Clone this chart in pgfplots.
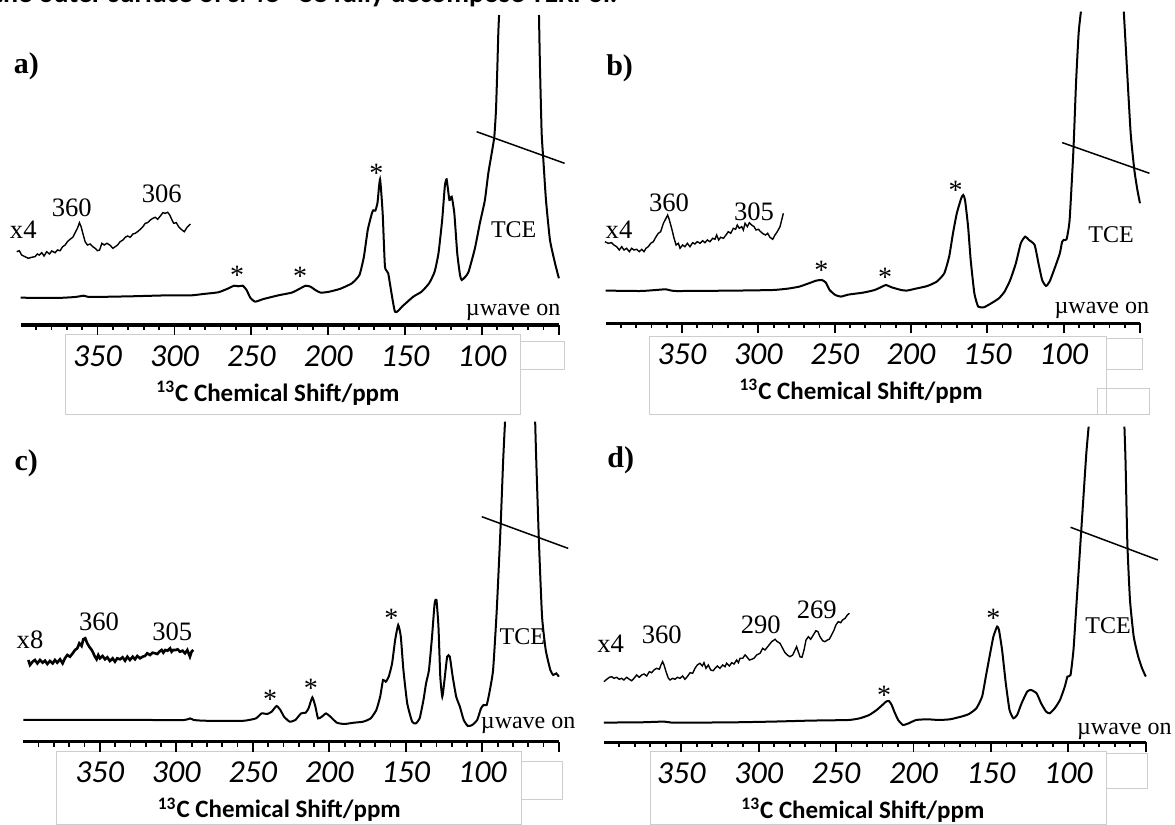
\documentclass[border=0pt]{standalone}
\usepackage{fontspec}
\setmainfont{Liberation Serif}
\newfontfamily\carlito{Carlito}
\usepackage{pgfplots}
\pgfplotsset{compat=1.18}
\definecolor{boxgray}{RGB}{205,205,205}

\pgfplotsset{
  nmr/.style={
    scale only axis, anchor=south west, clip=false,
    xmin=50, xmax=400, x dir=reverse, ymin=0,
    axis x line=bottom, axis y line=none,
    x axis line style={-, line width=1.6pt},
    xtick={50,100,...,350}, xticklabels={,100,150,200,250,300,350},
    minor xtick={60,70,...,390},
    xtick align=outside,
    major tick length=5pt, minor tick length=2.5pt,
    tick style={black, line width=0.9pt},
    xticklabel style={font=\carlito\itshape\fontsize{16}{16}\selectfont, anchor=center, yshift=-10.5pt},
    xlabel={\textsuperscript{13}C Chemical Shift/ppm},
    xlabel style={font=\carlito\bfseries\fontsize{12.5}{12.5}\selectfont,
      at={(axis description cs:0.478,0)}, anchor=center, yshift=-34pt},
  },
  spec/.style={black, line width=1pt, no markers, smooth, tension=0.3},
  ins/.style={black, line width=0.7pt, no markers},
}

\begin{document}
\begin{tikzpicture}
\path[use as bounding box] (0,0) rectangle (587.5pt,412.5pt);

% grey text-box outlines round the tick labels (image pixel coordinates)
\begin{scope}[yshift=412.5pt, x=0.5pt, y=-0.5pt, boxgray, line width=0.5pt]
  \draw (65.9,335) rectangle (520.5,415);
  \draw (520.5,341.7) rectangle (564.5,370);
  \draw (649,336.7) rectangle (1106.3,415);
  \draw (1106.3,338.3) rectangle (1142,370);
  \draw (1097,388.3) rectangle (1149.5,415);
  \draw (56.5,751.7) rectangle (521.3,825);
  \draw (521.3,761.7) rectangle (562.7,800);
  \draw (650.9,751.7) rectangle (1106.3,825);
  \draw (1106.3,753.3) rectangle (1147.7,788.3);
\end{scope}

% ---------- a) ----------
\begin{axis}[nmr, at={(10.35pt,250pt)}, width=269.1pt, height=155pt, ymax=310]
  \addplot[spec] coordinates {(400,27.3) (376.7,27) (364.5,28) (359.1,29.3) (354.7,28) (327.8,28.7)
    (303.3,29.7) (288.6,29.7) (281.3,31) (271.5,32.7) (265.4,36.3) (261.2,39.3) (258.5,38.7)
    (255.6,39.3) (253.1,35) (250.7,27.3) (247.5,23.3) (242.1,26) (232.3,29.7) (223.8,32.3)
    (220.1,35) (217.7,37) (214.7,39.3) (211.5,38.3) (208.4,35) (204.9,32.3) (199.3,33.3)
    (192,36.3) (184.6,41.7) (179.7,50) (176.8,68.3) (174.3,95) (171.6,111.7) (170.7,114.7)
    (169.4,114.3) (168,121.7) (166.3,145.7) (164.6,111.7) (163.1,58.3) (161,51.7) (156.6,13.3)
    (151.6,19) (144.7,28.3) (139.3,33.3) (134.4,41.7) (130.8,53.3) (128.3,71.7) (125.9,105)
    (124.2,138.3) (123,145.7) (121.2,125) (119.7,128.3) (118,111.7) (116.1,71.7) (114.3,50)
    (113.2,45) (110.8,48.3) (108.7,53.3) (104.6,76.7) (101.4,101.7) (100.2,110) (98.1,125)
    (95.9,151.7) (93.7,171.7) (92,188.3) (90.9,215) (90,258.3) (89.4,291.7) (88.9,310)};
  \addplot[spec] coordinates {(62.95,310) (62.3,258.3) (61.2,191.7) (60.1,165) (58.4,125)
    (55.8,85) (52.5,61.7) (50,46.7)};
  % x4 inset
  \addplot[ins] coordinates {(402.6,73.3) (400.9,74.3) (399.4,70) (397.2,68.3) (395,66.7)
    (392.9,67.7) (390.7,68.3) (389.2,71) (387.9,70) (386.3,72.3) (384.8,69) (383.1,73.3)
    (381.3,71) (379.8,74) (377.6,72.3) (376.1,75) (374.4,74.3) (372.7,78.3) (371.1,80)
    (369.6,83.3) (367.9,85.7) (366.1,87.7) (364.6,92.3) (363.1,96.7) (361.8,102.3) (360.7,98.3)
    (359.6,91.7) (358.1,83.3) (356.6,80) (354.8,81) (353.1,78.3) (351.6,76.7) (350.1,74.3)
    (348.7,75) (347.2,81.7) (345.7,80) (343.9,81.7) (341.8,79.7) (340.1,76.7) (338.5,78.3)
    (337,80) (335.3,83.3) (333.5,85) (332,87.7) (330.5,89) (328.8,87.7) (327,91) (325.5,91.7)
    (324,93.3) (322.2,95.7) (320.5,98.3) (319,101.7) (317.5,102.3) (315.7,105) (314,106.7)
    (312.5,107.7) (310.9,105.7) (309.2,109) (307.5,112.3) (306,111.7) (304.4,112.7) (303.1,110)
    (301.6,105) (300.5,101.7) (298.8,102.3) (297.3,98.3) (295.1,95) (293.6,93.3) (291.8,97.7)
    (289.7,101)};
  \draw[line width=0.75pt] (axis cs:103.5,193.3) -- (axis cs:46.3,161.7);
\end{axis}

% ---------- b) ----------
\begin{axis}[nmr, at={(302.85pt,250.85pt)}, width=267.15pt, height=155.85pt, ymax=311.7]
  \addplot[spec] coordinates {(400,32.7) (376.6,32.3) (360.6,34) (354.4,32.3) (315,32.7)
    (290.3,33.3) (280.5,34.7) (273.1,36.7) (266.9,40) (262,42.7) (258.3,43.3) (255.8,40.7)
    (253.3,33.3) (249.6,28.3) (245.9,26.7) (241,28.7) (231.2,30.7) (223.8,33.3) (218.8,36.7)
    (216.4,38.3) (212.7,36) (206.5,33.3) (202.8,32.7) (196.7,34.7) (189.3,37.3) (183.1,41.7)
    (178.2,50) (175,66.7) (172.5,90) (170,110) (167.1,125) (165.8,128.3) (164.6,123.3)
    (162.6,96.7) (160.9,63.3) (158.5,30) (156,16.7) (152.3,16) (147.4,20) (142.4,25)
    (138.7,31.7) (135,43.3) (131.3,60) (128.1,80) (125.2,86.7) (122.7,83.3) (119,78.3)
    (116.5,60) (114.1,43.3) (111.6,37.3) (109.2,41.7) (105.5,56.7) (102.5,70) (101,81.7)
    (100,83.3) (98.1,84) (96.1,103.3) (93.6,173.3) (91.9,240) (90.2,290) (88.7,311.7)};
  \addplot[spec] coordinates {(60.6,311.7) (58.6,256.7) (56.1,190) (53.7,153.3) (51.7,133.3)
    (50,120)};
  \addplot[ins] coordinates {(400.5,81.6) (398.3,80) (396.1,80.6) (394.6,78.3) (392.8,76.6)
    (391.1,73.3) (389.5,76.6) (388,73.3) (386.3,75) (384.5,71.6) (383,75) (381.5,73.3)
    (379.7,74) (378,71.6) (376.4,74) (374.9,71.6) (373.6,75) (372.1,76.6) (370.5,80)
    (368.8,81.6) (367,86.6) (365.5,90) (364,91.6) (362.2,100) (360.5,105) (359.4,108.3)
    (358.3,103.3) (356.8,95) (355.2,85) (353.9,78.3) (352.4,80) (351.3,75) (349.6,78.3)
    (348.1,76.6) (346.5,80) (344.8,76.6) (343,80.6) (341.5,79.3) (340,81.6) (338.2,80)
    (336.5,82.6) (335,80.6) (333.4,83.3) (331.7,81.6) (329.9,85) (328.4,84) (327.3,88.3)
    (326,83.3) (324.7,86) (322.9,85) (321.2,88.3) (319.7,91.6) (318.1,90) (316.4,95)
    (314.9,94) (313.8,98.3) (312.5,95) (310.9,96.6) (309.8,93.3) (308.7,100) (307.2,96.6)
    (305.9,100.6) (304.4,98.3) (302.8,96.6) (301.5,93.3) (300,94) (298.5,91.6) (296.7,89.3)
    (295.2,88.3) (293.9,90) (292.4,86) (290.6,84) (289.1,88.3) (287.6,91.6) (285.8,96.6)
    (284.7,103.3) (283.6,110)};
  \draw[line width=0.75pt] (axis cs:101,180.7) -- (axis cs:43.8,150);
\end{axis}

% ---------- c) ----------
\begin{axis}[nmr, at={(11.65pt,41.65pt)}, width=267.8pt, height=160pt, ymax=320]
  \addplot[spec] coordinates {(400,21.7) (378.4,21.7) (353.8,21.7) (316.9,21.7) (294.7,21.7)
    (291,23.3) (288.6,21.7) (282.4,21) (267.7,20.7) (255.4,21) (248,23.3) (244.3,28.3)
    (240.6,27.7) (237.7,30) (234.5,35.7) (232,31.7) (229.6,25) (225.9,20) (222.2,21.7)
    (218.5,28.3) (215.5,29) (213.6,33.3) (211.1,44.3) (209.1,35) (207.4,23.3) (204.9,25)
    (202.2,28.3) (199.3,25) (195.1,19) (190.2,17.7) (184,19) (177.9,20) (173,23.3) (169.3,31.7)
    (166.8,45) (164.9,61.7) (163.1,60) (161.2,65) (159,78.3) (157,101.7) (155,116.7)
    (153.3,105) (151.6,71.7) (149.1,38.3) (145.9,20) (143.5,18.3) (141,23.3) (138.5,41.7)
    (136.8,58.3) (134.9,71.7) (132.9,105) (131.2,138.3) (130,141.7) (128.7,115) (127.5,65)
    (126.2,45) (125,58.3) (123,85) (121.3,85) (119.4,65) (117.1,45) (114.7,35) (112.2,21.7)
    (109.5,15.7) (106.6,16.7) (103.4,21.7) (100.9,33.3) (99.2,36.7) (97.2,36.7) (95.5,48.3)
    (93,71.7) (90.6,131.7) (88.1,215) (86.4,281.7) (85.2,320)};
  \addplot[spec] coordinates {(65.5,320) (64.8,281.7) (63,198.3) (61,125) (58.6,91.7)
    (55.6,71.7) (53.7,66.7) (51.7,68.3) (50,65)};
  \addplot[ins, line width=1.3pt] coordinates {(396.7,81.7) (395.6,76.7) (393.9,80) (392.4,81.7)
    (390.8,78.3) (389.1,81.7) (387.4,79) (385.8,81) (384.3,77.7) (382.6,80.7) (380.8,78.3)
    (379.3,81.7) (377.8,79) (376,82.4) (374.3,78.3) (372.8,83.4) (371.2,86.7) (369.5,85)
    (367.7,88.4) (366.2,91.7) (364.7,93.4) (363.4,98.4) (361.9,95.7) (360.8,102.4) (359.5,103.4)
    (358.2,98.4) (356.9,95) (355.3,91.7) (354.2,88.4) (353.2,85) (352.1,82.4) (351,86.7)
    (349.9,83.4) (348.2,85.7) (346.6,82.4) (345.1,84.4) (343.4,80.7) (341.6,83.4) (340.1,80)
    (338.6,83.4) (336.8,82.4) (335.1,84.4) (333.5,81) (332,85) (330.3,81.7) (328.5,85)
    (327,82.4) (325.5,85.7) (323.7,83.4) (322,85) (320.5,85.7) (319,88.4) (317.2,86.7)
    (315.5,89) (313.9,88.4) (312.4,87.7) (311.1,90) (309.6,91.7) (308.5,89) (307.2,91.7)
    (305.7,91) (304.1,93.4) (303.1,90) (302,91.7) (300.4,91.7) (299.1,92.4) (297.6,90)
    (295.9,91) (294.3,88.4) (292.8,91.7) (291.1,85) (290,90) (288.9,91.7)};
  \draw[line width=0.75pt] (axis cs:100.4,225) -- (axis cs:43.9,193.3);
\end{axis}

% ---------- d) ----------
\begin{axis}[nmr, at={(301.9pt,41.35pt)}, width=271pt, height=157.85pt, ymax=315.7]
  \addplot[spec] coordinates {(400,19.7) (375.7,20) (361.1,20.7) (356.2,19.7) (339.2,19.7)
    (314.9,20) (290.6,20.7) (266.3,21.7) (242,22.3) (234.7,24) (228.6,27.3) (223.8,32.3)
    (220.1,37.3) (217.7,40.7) (215.8,41.3) (214.1,37.3) (212.4,30.7) (209.9,22.3) (206.8,17.3)
    (203.1,19) (198.3,22.3) (191,23) (183.7,22.3) (176.4,23) (169.1,25.7) (164.2,28.3)
    (159.4,34) (155.7,45.7) (153.3,65.7) (150.9,85.7) (148.4,105.7) (146,115.7) (144.8,112.3)
    (142.8,92.3) (140.4,59) (138,32.3) (135.5,24) (133.1,27.3) (130.2,39) (126.6,50.7)
    (124.1,52.3) (120.5,49) (117.6,39) (114.4,30.7) (112,29) (108.8,34) (105.4,42.3)
    (102.3,55.7) (100.6,65.7) (98.6,67.3) (96.7,92.3) (95,132.3) (92.5,192.3) (90.1,249)
    (88.4,289) (86.9,315.7)};
  \addplot[spec] coordinates {(63.8,315.7) (63.1,282.3) (61.9,199) (60.2,142.3) (57.8,105.7)
    (54.9,85.7) (52.4,74) (50,65.7)};
  \addplot[ins] coordinates {(399.9,60.6) (398.1,63) (396.4,65) (394.9,65.6) (393.4,64)
    (391.7,65) (390,63) (388.5,64) (387,62.3) (385.2,65) (383.5,63) (382,61.6) (380.5,64)
    (378.8,67.3) (377.1,65) (375.5,67.3) (374,68.3) (372.3,66.3) (370.6,70.6) (369.1,69.6)
    (367.6,72.3) (365.9,74) (364.1,73) (363.1,77.3) (362,80.6) (361.1,77.3) (359.8,70.6)
    (358.3,64) (357.2,62.3) (355.5,64) (354,63) (352.5,65) (350.8,64) (349.1,66.3) (347.6,63)
    (346.1,65.6) (344.3,69.6) (342.6,69) (341.1,74) (339.6,77.3) (337.9,79) (336.4,76.3)
    (335.3,79.6) (334,74) (332.5,77.3) (331,72.3) (329.3,71.6) (328.2,74) (326.7,76.3) (325,74)
    (323.2,77.3) (321.7,75.6) (320.7,79) (318.9,76.3) (317.4,79.6) (315.9,78.3) (314.2,82.3)
    (313.1,79.6) (312,84) (310.3,84) (308.8,87.3) (307.7,85.6) (306,82.3) (304.5,83) (303,84)
    (301.3,87.3) (299.1,89) (297.4,94) (295.9,92.3) (293.8,96.3) (291.6,100.6) (289.4,103)
    (287.9,100.6) (286.2,99) (284.5,94) (283,89.6) (281.5,87.3) (279.8,85.6) (278,87.3)
    (276.5,92.3) (275.5,95.6) (274.4,90.6) (273.3,85.6) (272,85) (270.7,92.3) (269.4,102.3)
    (267.9,105.6) (266.4,103) (264.7,107.3) (263,111.6) (261.7,110.6) (260.4,105.6) (258.7,101.6)
    (257.2,100.6) (255.6,102.3) (254.4,103) (252.9,107.3) (251.3,112.3) (250.1,117.3)
    (248.6,120.6) (247,119.6) (245.8,122.3) (244.2,124) (242.7,127.3) (241.4,129)};
  \draw[line width=0.75pt] (axis cs:98.6,215) -- (axis cs:42.2,182.3);
\end{axis}

% ---------- labels (image pixel coordinates) ----------
\begin{scope}[yshift=412.5pt, x=0.5pt, y=-0.5pt,
  every node/.style={inner sep=0pt},
  pl/.style={font=\bfseries\fontsize{15}{15}\selectfont},
  an/.style={font=\fontsize{13.3}{14}\selectfont},
  as/.style={font=\fontsize{14}{14}\selectfont},
  tc/.style={font=\fontsize{12}{12}\selectfont},
  mw/.style={font=\fontsize{12}{12}\selectfont, anchor=base east}]
  % caption line of the page above, cut off by the picture's top edge
  \node[anchor=base west, font=\carlito\bfseries\fontsize{14}{14}\selectfont]
    at (-7,2.5) {the outer surface of \textit{sMC}--CC fully decompose TEKPol.};
  % a
  \node[pl] at (26.3,66.7) {a)};
  \node[an] at (23.3,230) {x4};
  \node[an] at (71.7,208) {360};
  \node[an] at (161.7,193.3) {306};
  \node[as] at (237.1,275) {*};
  \node[as] at (300,276) {*};
  \node[as] at (376.4,173.3) {*};
  \node[tc] at (513.7,229.3) {TCE};
  \node[mw] at (560.8,315.4) {µwave on};
  % b
  \node[pl] at (619.6,68.3) {b)};
  \node[an] at (619,230) {x4};
  \node[an] at (669,203) {360};
  \node[an] at (754,211.7) {305};
  \node[as] at (821.4,270) {*};
  \node[as] at (885,277.3) {*};
  \node[as] at (955.7,190) {*};
  \node[tc] at (1111,235) {TCE};
  \node[mw] at (1149.5,313.7) {µwave on};
  % c
  \node[pl] at (26.3,463.3) {c)};
  \node[an] at (30,640) {x8};
  \node[an] at (99,621.7) {360};
  \node[an] at (172.3,631.7) {305};
  \node[as] at (270.2,699.3) {*};
  \node[as] at (310.9,688.3) {*};
  \node[as] at (391.4,618.3) {*};
  \node[tc] at (522.4,636.7) {TCE};
  \node[mw] at (575.8,728.7) {µwave on};
  % d
  \node[pl] at (620.8,460) {d)};
  \node[an] at (610.7,643.3) {x4};
  \node[an] at (661.7,635) {360};
  \node[an] at (760.7,625) {290};
  \node[an] at (816.7,610) {269};
  \node[as] at (884.2,695) {*};
  \node[as] at (993.4,618.3) {*};
  \node[tc] at (1108,626) {TCE};
  \node[mw] at (1172,734.7) {µwave on};
\end{scope}
\end{tikzpicture}
\end{document}
